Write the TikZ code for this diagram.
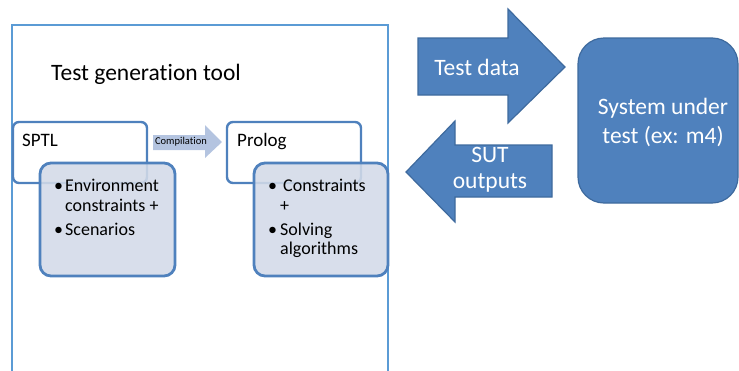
\documentclass[tikz,border=0pt]{standalone}
\usepackage{fontspec}
\setmainfont[Ligatures=NoCommon]{Carlito}
\usetikzlibrary{positioning}
\definecolor{mainblue}{HTML}{4F81BD}
\definecolor{darkblue}{HTML}{3E6A9E}
\definecolor{subfill}{HTML}{D3DAE8}
\definecolor{framecol}{HTML}{5B9BD5}
\definecolor{compfill}{HTML}{B4C4E0}
\tikzset{
  upper/.style={draw=mainblue, line width=2.4pt, fill=white, rounded corners=6pt},
  lower/.style={draw=mainblue, line width=2.8pt, fill=subfill, fill opacity=0.88, rounded corners=11pt},
  bigarrow/.style={draw=darkblue, line width=1.2pt, fill=mainblue},
  lbl/.style={inner sep=0pt, anchor=base west, font=\fontsize{18}{21}\selectfont},
  wlbl/.style={inner sep=0pt, text=white, font=\fontsize{23.5}{28}\selectfont, align=center},
}
\begin{document}
\begin{tikzpicture}[x=1pt,y=-1pt]
\useasboundingbox (0,0) rectangle (739,370);
% outer frame
\draw[framecol, line width=1.1pt] (12,372) -- (12,25) -- (388,25) -- (388,372);
\node[inner sep=0pt, anchor=base west, font=\fontsize{23.5}{28}\selectfont] (title) at (51,80) {Test generation tool};
% SPTL
\draw[upper] (13,122) rectangle (147,183);
\node[inner sep=0pt, anchor=base west, font=\fontsize{19}{22}\selectfont] (sptl) at (22,146) {SPTL};
\draw[lower] (40,163) rectangle (175,276);
\node[lbl] (b1) at (54,191) {•};
\node[lbl] (e1) at (65,191) {Environment};
\node[lbl] (e2) at (65,211) {constraints +};
\node[lbl] (b2) at (54,235) {•};
\node[lbl] (e3) at (65,235) {Scenarios};
% compilation arrow
\fill[compfill] (153,135) -- (205,135) -- (205,125) -- (222,142) -- (205,158) -- (205,150) -- (153,150) -- cycle;
\node[inner sep=0pt, font=\fontsize{10.5}{12}\selectfont] (comp) at (181,142) {Compilation};
% Prolog
\draw[upper] (227,122) rectangle (361,183);
\node[inner sep=0pt, anchor=base west, font=\fontsize{19}{22}\selectfont] (prolog) at (237,146) {Prolog};
\draw[lower] (254,163) rectangle (388,276);
\node[lbl] (b3) at (268,191) {•};
\node[lbl] (c1) at (283,191) {Constraints};
\node[lbl] (c2) at (280,211) {+};
\node[lbl] (b4) at (268,235) {•};
\node[lbl] (c3) at (280,235) {Solving};
\node[lbl] (c4) at (280,254) {algorithms};
% test data arrow
\draw[bigarrow] (418,38) -- (508,38) -- (508,9) -- (565,67) -- (508,123) -- (508,95) -- (418,95) -- cycle;
\node[wlbl] (td) at (477,67) {Test data};
% SUT outputs arrow
\draw[bigarrow] (552,145) -- (455,145) -- (455,121) -- (406,172) -- (455,222) -- (455,197) -- (552,197) -- cycle;
\node[wlbl, font=\fontsize{23.5}{26}\selectfont] (so) at (490,170) {SUT\\outputs};
% system under test
\draw[bigarrow, rounded corners=26pt] (578,38) rectangle (738,203);
\node[wlbl, font=\fontsize{23.5}{29}\selectfont] (sut) at (663,122) {System under\\test (ex: m4)};
\end{tikzpicture}
\end{document}
